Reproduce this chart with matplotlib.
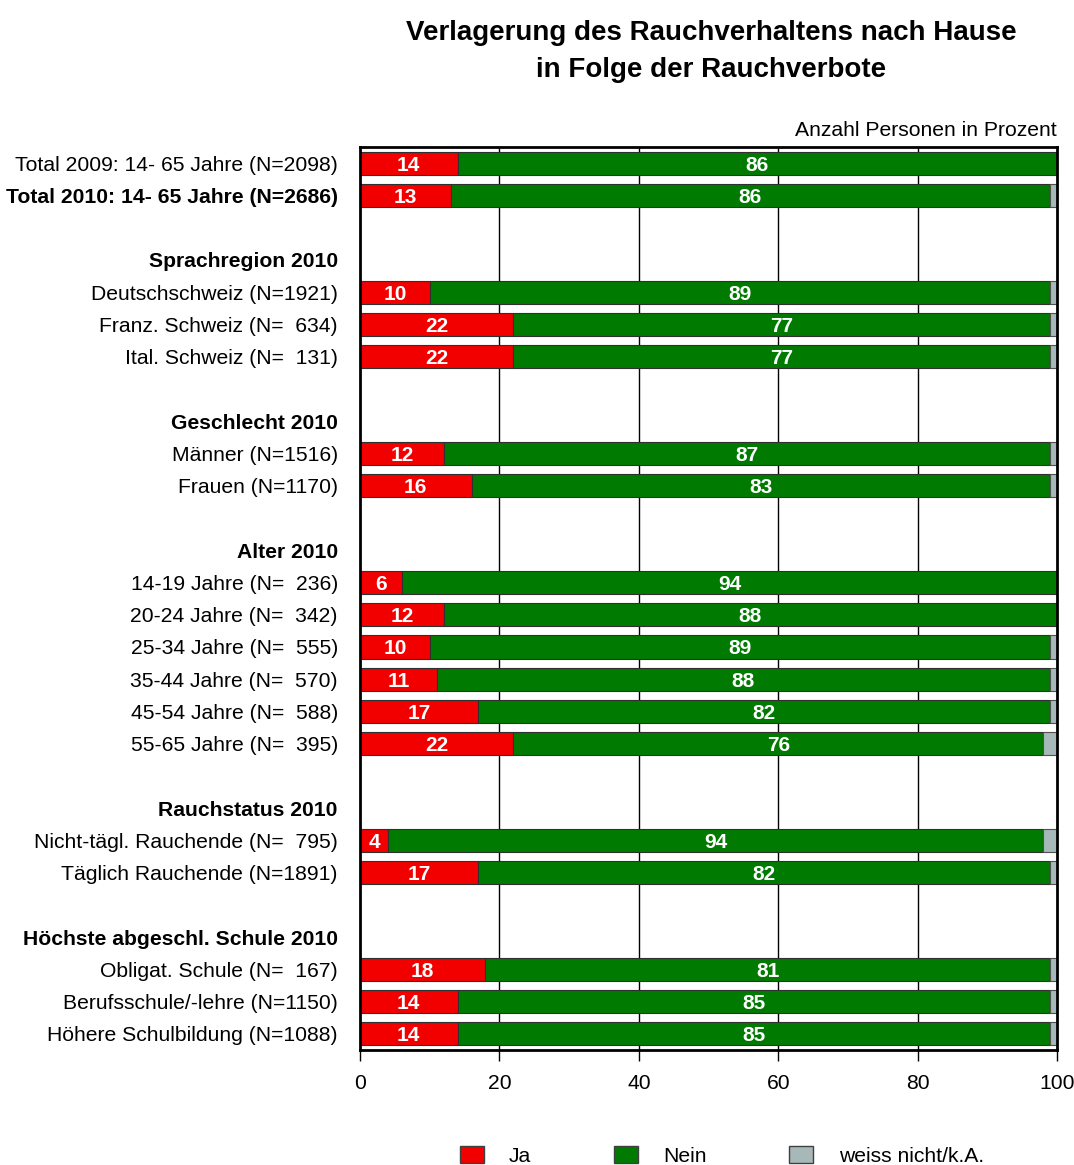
import numpy as np
import matplotlib
matplotlib.use("Agg")
from matplotlib import pyplot as plt
from matplotlib.patches import Patch

plt.rcParams['font.family'] = ['Liberation Sans', 'DejaVu Sans']

# rows from top to bottom; None = empty spacer row
labels = [
    "Total 2009: 14- 65 Jahre (N=2098)",
    "Total 2010: 14- 65 Jahre (N=2686)",
    None,
    "Sprachregion 2010",
    "Deutschschweiz (N=1921)",
    "Franz. Schweiz (N=  634)",
    "Ital. Schweiz (N=  131)",
    None,
    "Geschlecht 2010",
    "Männer (N=1516)",
    "Frauen (N=1170)",
    None,
    "Alter 2010",
    "14-19 Jahre (N=  236)",
    "20-24 Jahre (N=  342)",
    "25-34 Jahre (N=  555)",
    "35-44 Jahre (N=  570)",
    "45-54 Jahre (N=  588)",
    "55-65 Jahre (N=  395)",
    None,
    "Rauchstatus 2010",
    "Nicht-tägl. Rauchende (N=  795)",
    "Täglich Rauchende (N=1891)",
    None,
    "Höchste abgeschl. Schule 2010",
    "Obligat. Schule (N=  167)",
    "Berufsschule/-lehre (N=1150)",
    "Höhere Schulbildung (N=1088)",
]
bold_rows = [1, 3, 8, 12, 20, 24]

ja = [14, 13, None, None, 10, 22, 22, None, None, 12, 16, None, None,
      6, 12, 10, 11, 17, 22, None, None, 4, 17, None, None, 18, 14, 14]
nein = [86, 86, None, None, 89, 77, 77, None, None, 87, 83, None, None,
        94, 88, 89, 88, 82, 76, None, None, 94, 82, None, None, 81, 85, 85]

c_ja = '#f20000'
c_nein = '#007a00'
c_wn = '#a6b8b8'

fig = plt.figure(figsize=(10.74, 11.65), dpi=100)
ax = fig.add_axes([0.3352, 0.0987, 0.6490, 0.7751])

fs = 15.2
for i, (j, n) in enumerate(zip(ja, nein)):
    if j is None:
        continue
    w = 100 - j - n
    ax.barh(i, j, height=0.72, color=c_ja, edgecolor='#303030', linewidth=0.8, zorder=3)
    ax.barh(i, n, left=j, height=0.72, color=c_nein, edgecolor='#303030', linewidth=0.8, zorder=3)
    if w > 0:
        ax.barh(i, w, left=j + n, height=0.72, color=c_wn, edgecolor='#505050', linewidth=0.8, zorder=3)
    ax.text(j / 2, i, str(j), color='white', fontweight='bold', fontsize=15,
            ha='center', va='center_baseline', zorder=4)
    ax.text(j + n / 2, i, str(n), color='white', fontweight='bold', fontsize=15,
            ha='center', va='center_baseline', zorder=4)

ax.set_xlim(0, 100)
ax.set_ylim(len(labels) - 0.5, -0.5)
ax.set_xticks([0, 20, 40, 60, 80, 100])
ax.tick_params(axis='x', direction='out', length=8, width=1, labelsize=fs, pad=9)
for x in [20, 40, 60, 80]:
    ax.axvline(x, color='black', linewidth=1, zorder=1)

ax.set_yticks(range(len(labels)))
ax.set_yticklabels([l if l else "" for l in labels], fontsize=fs)
ax.tick_params(axis='y', length=0, pad=16)
for k, t in enumerate(ax.get_yticklabels()):
    if k in bold_rows:
        t.set_fontweight('bold')

for s in ax.spines.values():
    s.set_linewidth(2)
    s.set_zorder(5)

ax.text(1.0, 1.008, "Anzahl Personen in Prozent", transform=ax.transAxes,
        ha='right', va='bottom', fontsize=fs)

fig.text(0.662, 0.983, "Verlagerung des Rauchverhaltens nach Hause\nin Folge der Rauchverbote",
         ha='center', va='top', fontsize=20, fontweight='bold', linespacing=1.55)

handles = [Patch(facecolor=c_ja, edgecolor='#404040', label='Ja'),
           Patch(facecolor=c_nein, edgecolor='#404040', label='Nein'),
           Patch(facecolor=c_wn, edgecolor='#404040', label='weiss nicht/k.A.')]
fig.legend(handles=handles, loc='center', bbox_to_anchor=(0.672, 0.0077), ncol=3,
           frameon=False, fontsize=fs, handlelength=1.15, handleheight=0.85,
           handletextpad=1.2, columnspacing=3.9, borderpad=0)

fig.savefig("out.png", dpi=100)
